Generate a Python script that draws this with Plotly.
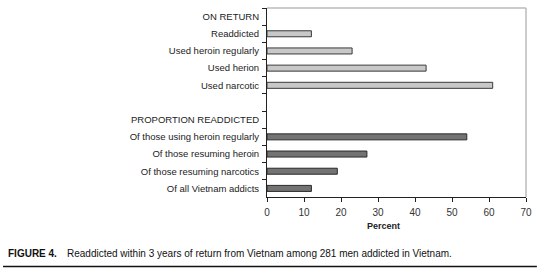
import plotly.graph_objects as go

categories = ["ON RETURN", "Readdicted", "Used heroin regularly", "Used herion", "Used narcotic",
              " ",
              "PROPORTION READDICTED", "Of those using heroin regularly", "Of those resuming heroin",
              "Of those resuming narcotics", "Of all Vietnam addicts"]
return_labels = ["Readdicted", "Used heroin regularly", "Used herion", "Used narcotic"]
return_values = [12, 23, 43, 61]
prop_labels = ["Of those using heroin regularly", "Of those resuming heroin",
               "Of those resuming narcotics", "Of all Vietnam addicts"]
prop_values = [54, 27, 19, 12]
x_ticks = [0, 10, 20, 30, 40, 50, 60, 70]

W, H = 540, 268
L, R, T, B = 267, 11, 8, 71
pw, ph = W - L - R, H - T - B

def px(xp):
    return (xp - L) / pw

def py(yp):
    return (H - B - yp) / ph

fig = go.Figure()
fig.add_trace(go.Bar(y=return_labels, x=return_values, orientation="h",
                     marker=dict(color="#c8c8c8", line=dict(color="#3a3a3a", width=1))))
fig.add_trace(go.Bar(y=prop_labels, x=prop_values, orientation="h",
                     marker=dict(color="#737373", line=dict(color="#2a2a2a", width=1))))

font = "Liberation Sans, Arial, sans-serif"
fig.update_layout(
    width=W, height=H, margin=dict(l=L, r=R, t=T, b=B),
    paper_bgcolor="white", plot_bgcolor="white",
    barmode="overlay", bargap=0.65, showlegend=False,
    font=dict(family=font, size=9.5, color="#222222"),
    xaxis=dict(range=[0, 70], tickvals=x_ticks, showgrid=False, zeroline=False,
               showline=True, linecolor="#222222", linewidth=1,
               ticks="outside", ticklen=4, tickcolor="#222222", ticklabelstandoff=2,
               tickfont=dict(size=10, color="#333333")),
    yaxis=dict(type="category", categoryorder="array", categoryarray=categories,
               range=[len(categories) - 0.5, -0.5],
               showgrid=False, zeroline=False, showline=True, linecolor="#222222", linewidth=1,
               ticks="outside", ticklen=4, tickcolor="#222222", tickson="boundaries",
               ticklabelstandoff=5,
               tickfont=dict(size=9.5, color="#222222")),
    shapes=[
        dict(type="line", xref="paper", yref="paper", x0=0, x1=1, y0=1, y1=1,
             line=dict(color="#bbbbbb", width=1.5)),
        dict(type="line", xref="paper", yref="paper", x0=1, x1=1, y0=0, y1=1,
             line=dict(color="#bbbbbb", width=1.5)),
        dict(type="line", xref="paper", yref="paper", x0=px(0), x1=px(540), y0=py(266.5), y1=py(266.5),
             line=dict(color="#111111", width=1.5)),
    ],
    annotations=[
        dict(text="<b>Percent</b>", xref="paper", yref="paper", x=px(385), y=py(226),
             xanchor="center", yanchor="middle", showarrow=False, font=dict(size=9, color="#222222")),
        dict(text="<b>FIGURE 4.</b>", xref="paper", yref="paper", x=px(3), y=py(253),
             xanchor="left", yanchor="middle", showarrow=False, font=dict(size=10, color="#111111")),
        dict(text="Readdicted within 3 years of return from Vietnam among 281 men addicted in Vietnam.",
             xref="paper", yref="paper", x=px(63), y=py(253),
             xanchor="left", yanchor="middle", showarrow=False, font=dict(size=10, color="#111111")),
    ],
)

fig.write_html("out.html")
